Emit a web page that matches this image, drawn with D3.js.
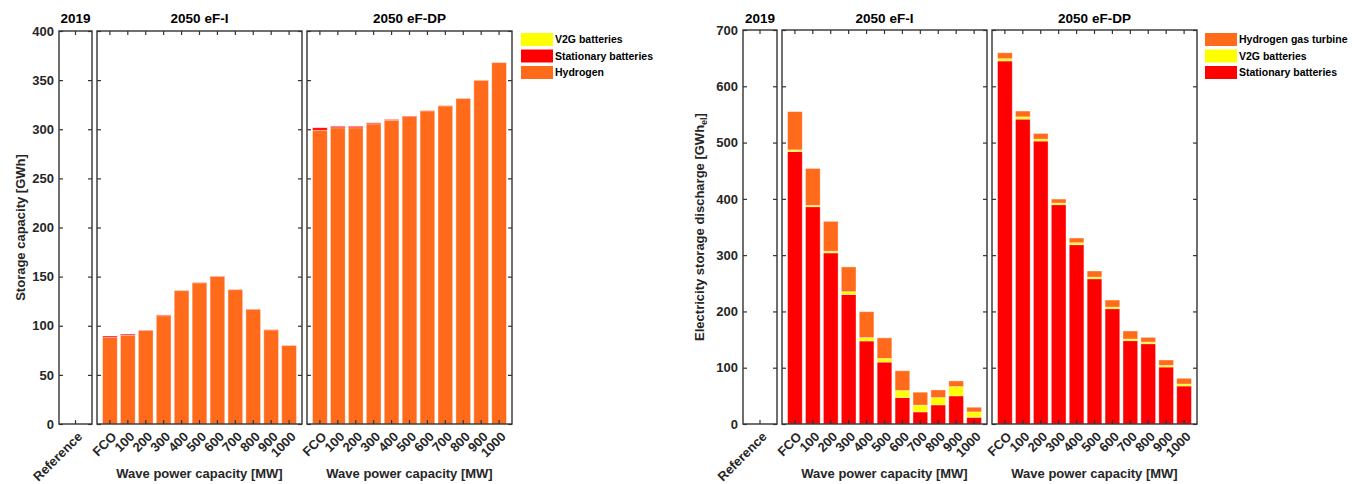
<!DOCTYPE html>
<html>
<head>
<meta charset="utf-8">
<script src="https://cdn.jsdelivr.net/npm/d3@7"></script>
<style>
  html, body { margin: 0; padding: 0; background: #fff; }
  svg { display: block; font-family: "Liberation Sans", Arial, Helvetica, sans-serif; font-weight: bold; }
</style>
</head>
<body>
<svg id="chart" width="1358" height="484"></svg>
<script>
// Categories
const refCategory = ["Reference"];
const waveCategories = ["FCO", "100", "200", "300", "400", "500", "600", "700", "800", "900", "1000"];
const panelTitles = ["2019", "2050 eF-I", "2050 eF-DP"];

// Storage capacity [GWh]
const storageRefHydrogen = [0];
const storageRefStationary = [0];
const storageRefV2G = [0];
const storageFIHydrogen = [88, 90.3, 95.1, 110.2, 135.7, 143.7, 150.2, 136.7, 116.8, 95.8, 79.8];
const storageFIStationary = [1.5, 1.2, 0.4, 0.8, 0.3, 0.3, 0.3, 0.3, 0.2, 0.2, 0.2];
const storageFIV2G = [0, 0, 0, 0, 0, 0, 0, 0, 0, 0, 0];
const storageDPHydrogen = [299, 301.5, 301.5, 305.5, 309.2, 312.9, 318.7, 323.8, 331.3, 349.8, 367.8];
const storageDPStationary = [2.5, 1.5, 1.5, 1.0, 0.8, 0.6, 0.3, 0.2, 0.2, 0.2, 0.2];
const storageDPV2G = [0, 0, 0, 0, 0, 0, 0, 0, 0, 0, 0];
const storageTicks = [0, 50, 100, 150, 200, 250, 300, 350, 400];

// Electricity storage discharge [GWh_el]
const dischargeRefStationary = [0];
const dischargeRefV2G = [0];
const dischargeRefH2Turbine = [0];
const dischargeFIStationary = [484, 386, 304, 230, 147.5, 110, 47, 21.5, 34, 50, 12];
const dischargeFIV2G = [3, 2.5, 3, 5, 6, 6.5, 12.5, 12, 13, 16.5, 9.5];
const dischargeFIH2Turbine = [68, 65.5, 53, 44, 46, 36.5, 35, 23, 13.5, 10, 8.3];
const dischargeDPStationary = [645, 541.7, 502.7, 389.6, 318.5, 258, 204.8, 148, 142.6, 101.2, 67.5];
const dischargeDPV2G = [4, 4, 3.5, 3, 3.5, 3, 3, 3, 3, 3, 3.5];
const dischargeDPH2Turbine = [10.5, 10.3, 10, 7, 8.4, 10.8, 12.4, 14.2, 8.4, 9.5, 10.2];
const dischargeTicks = [0, 100, 200, 300, 400, 500, 600, 700];

const COLORS = { orange: "#ff6b1a", red: "#ff0000", yellow: "#ffff00" };
const FRAME = "#333333";

const svg = d3.select("#chart");

function buildRows(cats, seriesList) {
  return cats.map((c, i) => {
    const row = { cat: c };
    seriesList.forEach(s => { row[s.key] = s.values[i]; });
    return row;
  });
}

function drawChart(cfg) {
  const g = svg.append("g");
  const y = d3.scaleLinear().domain(cfg.yDomain).range([cfg.bottom, cfg.top]);
  const keys = cfg.series.map(s => s.key);
  const colorOf = Object.fromEntries(cfg.series.map(s => [s.key, s.color]));

  cfg.panels.forEach((p, pi) => {
    const x = d3.scaleBand().domain(p.cats).range([p.x0, p.x1])
      .paddingInner(0.18).paddingOuter(0.31);
    const rows = buildRows(p.cats, p.series);
    const stacked = d3.stack().keys(keys)(rows);
    const pg = g.append("g");

    // stacked bars
    stacked.forEach(layer => {
      pg.append("g").selectAll("rect").data(layer).join("rect")
        .attr("x", d => x(d.data.cat))
        .attr("width", x.bandwidth())
        .attr("y", d => y(d[1]))
        .attr("height", d => Math.max(0, y(d[0]) - y(d[1])))
        .attr("fill", colorOf[layer.key])
        .attr("stroke", "#ffffff")
        .attr("stroke-opacity", 0.45)
        .attr("stroke-width", 0.8);
    });

    // frame
    pg.append("rect")
      .attr("x", p.x0).attr("y", cfg.top)
      .attr("width", p.x1 - p.x0).attr("height", cfg.bottom - cfg.top)
      .attr("fill", "none").attr("stroke", FRAME).attr("stroke-width", 1.4);

    // inward ticks: bottom, top, left, right
    const tl = 4;
    const bottomAxis = d3.axisBottom(x).tickSize(-tl).tickFormat("");
    const topAxis = d3.axisTop(x).tickSize(-tl).tickFormat("");
    const leftAxis = d3.axisLeft(y).tickValues(cfg.ticks).tickSize(-tl).tickFormat("");
    const rightAxis = d3.axisRight(y).tickValues(cfg.ticks).tickSize(-tl).tickFormat("");
    [[bottomAxis, `translate(0,${cfg.bottom})`], [topAxis, `translate(0,${cfg.top})`],
     [leftAxis, `translate(${p.x0},0)`], [rightAxis, `translate(${p.x1},0)`]].forEach(([ax, tr]) => {
      const a = pg.append("g").attr("transform", tr).call(ax);
      a.select(".domain").remove();
      a.selectAll("line").attr("stroke", FRAME).attr("stroke-width", 1.2);
    });

    // rotated category labels
    pg.append("g").selectAll("text").data(p.cats).join("text")
      .attr("transform", d => `translate(${x(d) + x.bandwidth() / 2 + 7.5},${cfg.bottom + 13.5}) rotate(-45)`)
      .attr("text-anchor", "end")
      .attr("font-size", 13)
      .attr("fill", "#262626")
      .text(d => d);

    // panel title
    pg.append("text")
      .attr("x", (p.x0 + p.x1) / 2).attr("y", 23)
      .attr("text-anchor", "middle").attr("font-size", 13.5).attr("fill", "#000")
      .text(panelTitles[pi]);

    // x axis title
    if (p.xTitle) {
      pg.append("text")
        .attr("x", (p.x0 + p.x1) / 2).attr("y", 478)
        .attr("text-anchor", "middle").attr("font-size", 13).attr("fill", "#262626")
        .text(p.xTitle);
    }

    // y tick labels on first panel only
    if (pi === 0) {
      pg.append("g").selectAll("text").data(cfg.ticks).join("text")
        .attr("x", p.x0 - 5).attr("y", d => y(d))
        .attr("dy", "0.36em")
        .attr("text-anchor", "end").attr("font-size", 13).attr("fill", "#262626")
        .text(d => d);
    }
  });

  // y axis title
  const yt = g.append("text")
    .attr("transform", `translate(${cfg.yTitleX},${(cfg.top + cfg.bottom) / 2}) rotate(-90)`)
    .attr("text-anchor", "middle").attr("font-size", 13).attr("fill", "#262626");
  yt.append("tspan").text(cfg.yTitle);
  if (cfg.yTitleSub) {
    yt.append("tspan").attr("font-size", 9).attr("dy", 3).text(cfg.yTitleSub);
    yt.append("tspan").attr("dy", -3).text("]");
  }

  // legend (top entry first)
  const lg = g.append("g").attr("transform", `translate(${cfg.legendX},33)`);
  cfg.legendOrder.forEach((k, i) => {
    const s = cfg.series.find(d => d.key === k);
    lg.append("rect").attr("x", 0).attr("y", i * 16.5).attr("width", 32).attr("height", 13)
      .attr("fill", s.color);
    lg.append("text").attr("x", 34).attr("y", i * 16.5 + 6.5).attr("dy", "0.36em")
      .attr("font-size", 10.5).attr("fill", "#000").text(s.label);
  });
}

// Storage capacity chart
drawChart({
  top: 31, bottom: 424, yDomain: [0, 400], ticks: storageTicks,
  yTitle: "Storage capacity [GWh]", yTitleX: 25,
  series: [
    { key: "h2", label: "Hydrogen", color: COLORS.orange },
    { key: "stat", label: "Stationary batteries", color: COLORS.red },
    { key: "v2g", label: "V2G batteries", color: COLORS.yellow }
  ],
  legendOrder: ["v2g", "stat", "h2"], legendX: 521,
  panels: [
    { x0: 59, x1: 92, cats: refCategory, series: [
      { key: "h2", values: storageRefHydrogen }, { key: "stat", values: storageRefStationary }, { key: "v2g", values: storageRefV2G }] },
    { x0: 97, x1: 302, cats: waveCategories, xTitle: "Wave power capacity [MW]", series: [
      { key: "h2", values: storageFIHydrogen }, { key: "stat", values: storageFIStationary }, { key: "v2g", values: storageFIV2G }] },
    { x0: 307, x1: 512, cats: waveCategories, xTitle: "Wave power capacity [MW]", series: [
      { key: "h2", values: storageDPHydrogen }, { key: "stat", values: storageDPStationary }, { key: "v2g", values: storageDPV2G }] }
  ]
});

// Electricity storage discharge chart
drawChart({
  top: 30, bottom: 424, yDomain: [0, 700], ticks: dischargeTicks,
  yTitle: "Electricity storage discharge [GWh", yTitleSub: "el", yTitleX: 704,
  series: [
    { key: "stat", label: "Stationary batteries", color: COLORS.red },
    { key: "v2g", label: "V2G batteries", color: COLORS.yellow },
    { key: "h2gt", label: "Hydrogen gas turbine", color: COLORS.orange }
  ],
  legendOrder: ["h2gt", "v2g", "stat"], legendX: 1205,
  panels: [
    { x0: 743, x1: 777, cats: refCategory, series: [
      { key: "stat", values: dischargeRefStationary }, { key: "v2g", values: dischargeRefV2G }, { key: "h2gt", values: dischargeRefH2Turbine }] },
    { x0: 782, x1: 987, cats: waveCategories, xTitle: "Wave power capacity [MW]", series: [
      { key: "stat", values: dischargeFIStationary }, { key: "v2g", values: dischargeFIV2G }, { key: "h2gt", values: dischargeFIH2Turbine }] },
    { x0: 992, x1: 1197, cats: waveCategories, xTitle: "Wave power capacity [MW]", series: [
      { key: "stat", values: dischargeDPStationary }, { key: "v2g", values: dischargeDPV2G }, { key: "h2gt", values: dischargeDPH2Turbine }] }
  ]
});
</script>
</body>
</html>
